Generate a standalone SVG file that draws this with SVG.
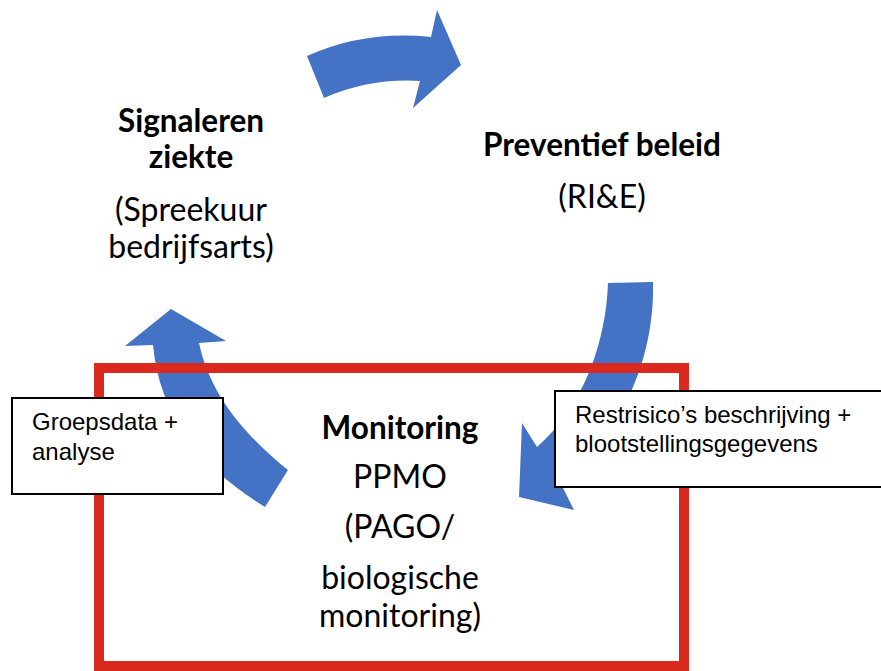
<svg xmlns="http://www.w3.org/2000/svg" width="881" height="671" viewBox="0 0 881 671">
<style>
.arrow{fill:#4472C4;stroke:none}
.frame{fill:none;stroke:#DA2A1F;stroke-width:10}
.box{fill:#FFFFFF;stroke:#000000;stroke-width:2}
.t{font-family:Lato,"Open Sans",sans-serif;font-size:32px;fill:#000;text-anchor:middle}
.b{font-weight:bold;font-size:31.5px}
.s{font-family:"Liberation Sans",Arial,sans-serif;font-size:24px;fill:#000}
</style>
<rect width="881" height="671" fill="#FFFFFF"/>
<g id="connectors">
<path class="arrow" d="M307,56 Q365,30 431,37 L437,10 L461,65 L413,108 L420,81 Q370,78 324,98 Z"/>
<path class="arrow" d="M608,283 L653,282 C655,360 620,440 558,478 L574,510 L519,497 L522,423 L537,447 C585,405 606,340 608,283 Z"/>
<path class="arrow" d="M288,470 C245,435 210,395 199,343 L226,341 L171,309 L125,346 L153,345 C160,420 205,470 265,507 Z"/>
</g>
<g id="monitoring-frame">
<rect class="frame" x="99" y="368" width="585" height="298"/>
</g>
<g id="node-signaleren">
<text class="t b" x="191" y="132">Signaleren</text>
<text class="t b" x="191" y="168">ziekte</text>
<text class="t" x="191" y="221">(Spreekuur</text>
<text class="t" x="191" y="258">bedrijfsarts)</text>
</g>
<g id="node-preventief">
<text class="t b" x="602" y="156">Preventief beleid</text>
<text class="t" x="602" y="208">(RI&amp;E)</text>
</g>
<g id="node-monitoring">
<text class="t b" x="400" y="439">Monitoring</text>
<text class="t" x="400" y="488">PPMO</text>
<text class="t" x="400" y="538">(PAGO/</text>
<text class="t" x="400" y="589">biologische</text>
<text class="t" x="400" y="627">monitoring)</text>
</g>
<g id="node-groepsdata">
<rect class="box" x="12" y="398" width="211" height="96"/>
<text class="s" x="32" y="430">Groepsdata +</text>
<text class="s" x="32" y="460">analyse</text>
</g>
<g id="node-restrisico">
<rect class="box" x="555" y="391" width="340" height="96"/>
<text class="s" x="575" y="423">Restrisico’s beschrijving +</text>
<text class="s" x="575" y="452">blootstellingsgegevens</text>
</g>
</svg>
